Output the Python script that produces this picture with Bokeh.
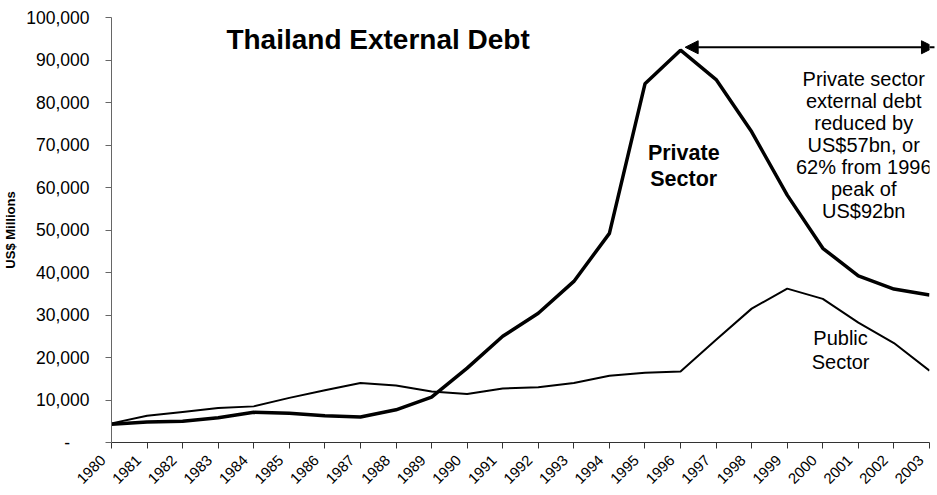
import math
from bokeh.plotting import figure
from bokeh.models import Range1d, FixedTicker, Label, Arrow, NormalHead
from bokeh.embed import file_html
from bokeh.resources import INLINE

# ---- data ----
years = list(range(1980, 2004))
private_sector = [4300, 4800, 5000, 5800, 7100, 6900, 6300, 6000, 7700, 10700,
                  17500, 25000, 30400, 37900, 49200, 84400, 92300, 85400, 73100,
                  58200, 45700, 39200, 36100, 34700]
public_sector = [4500, 6300, 7200, 8100, 8500, 10500, 12300, 14000, 13400, 12000,
                 11400, 12700, 13000, 14000, 15700, 16400, 16700, 24200, 31500,
                 36200, 33800, 28200, 23400, 16900]
y_ticks = [0, 10000, 20000, 30000, 40000, 50000, 60000, 70000, 80000, 90000, 100000]
y_tick_labels = ["-\u00a0\u00a0\u00a0\u00a0", "10,000", "20,000", "30,000", "40,000", "50,000",
                 "60,000", "70,000", "80,000", "90,000", "100,000"]
x_tick_labels = [str(y) for y in years]

FONT = "Liberation Sans"
PAD = "\u00a0\u00a0\u00a0"   # trailing pad shifts rotated labels down-left

p = figure(width=937, height=495, output_backend="svg", toolbar_location=None,
           x_range=Range1d(years[0], years[-1]), y_range=Range1d(0, 100000),
           min_border_left=110, min_border_right=8, min_border_top=17,
           min_border_bottom=52)
p.outline_line_color = None
p.xgrid.visible = False
p.ygrid.visible = False
p.background_fill_color = "white"
p.border_fill_color = "white"

# x axis
xa = p.xaxis[0]
xa.ticker = FixedTicker(ticks=years)
xa.major_label_overrides = {y: t + PAD for y, t in zip(years, x_tick_labels)}
xa.major_label_orientation = math.pi / 4
xa.major_label_text_font = FONT
xa.major_label_text_font_size = "15px"
xa.major_label_text_color = "black"
xa.major_label_standoff = 0
xa.major_tick_out = 6
xa.major_tick_in = 0
xa.minor_tick_out = 0
xa.minor_tick_in = 0
xa.axis_line_color = "#333333"
xa.major_tick_line_color = "#333333"

# y axis
ya = p.yaxis[0]
ya.ticker = FixedTicker(ticks=y_ticks)
ya.major_label_overrides = dict(zip(y_ticks, y_tick_labels))
ya.major_label_text_font = FONT
ya.major_label_text_font_size = "17.5px"
ya.major_label_text_color = "black"
ya.major_label_standoff = 16
ya.major_tick_out = 6
ya.major_tick_in = 0
ya.minor_tick_out = 0
ya.minor_tick_in = 0
ya.axis_line_color = "#666666"
ya.major_tick_line_color = "#666666"
ya.axis_label = "US$ Millions"
ya.axis_label_text_font = FONT
ya.axis_label_text_font_style = "bold"
ya.axis_label_text_font_size = "13px"
ya.axis_label_text_color = "black"
ya.axis_label_standoff = 5

# series
p.line(years, public_sector, line_width=2, color="black")
p.line(years, private_sector, line_width=3.5, color="black")

# title
p.add_layout(Label(x=1983.23, y=94800, text="Thailand External Debt",
                   text_font=FONT, text_font_style="bold", text_font_size="28px",
                   text_align="left", text_baseline="middle", text_color="black"))

# series labels
p.add_layout(Label(x=1996.09, y=65000, text="Private\nSector",
                   text_font=FONT, text_font_style="bold", text_font_size="21.5px",
                   text_line_height=1.09,
                   text_align="center", text_baseline="middle", text_color="black"))
p.add_layout(Label(x=2000.5, y=21700, text="Public\nSector",
                   text_font=FONT, text_font_size="20px", text_line_height=1.1,
                   text_align="center", text_baseline="middle", text_color="black"))

# annotation
p.add_layout(Label(x=2001.15, y=69900,
                   text="Private sector\nexternal debt\nreduced by\nUS$57bn, or\n62% from 1996\npeak of\nUS$92bn",
                   text_font=FONT, text_font_size="20px", text_line_height=1.0,
                   text_align="center", text_baseline="middle", text_color="black"))

peak_idx = private_sector.index(max(private_sector))
p.add_layout(Arrow(x_start=years[peak_idx] + 0.13, y_start=93000,
                   x_end=years[-1] + 0.14, y_end=93000,
                   line_width=2, line_color="black",
                   start=NormalHead(size=13, fill_color="black", line_color="black"),
                   end=NormalHead(size=13, fill_color="black", line_color="black")))

open("out.html", "w").write(file_html(p, INLINE))
